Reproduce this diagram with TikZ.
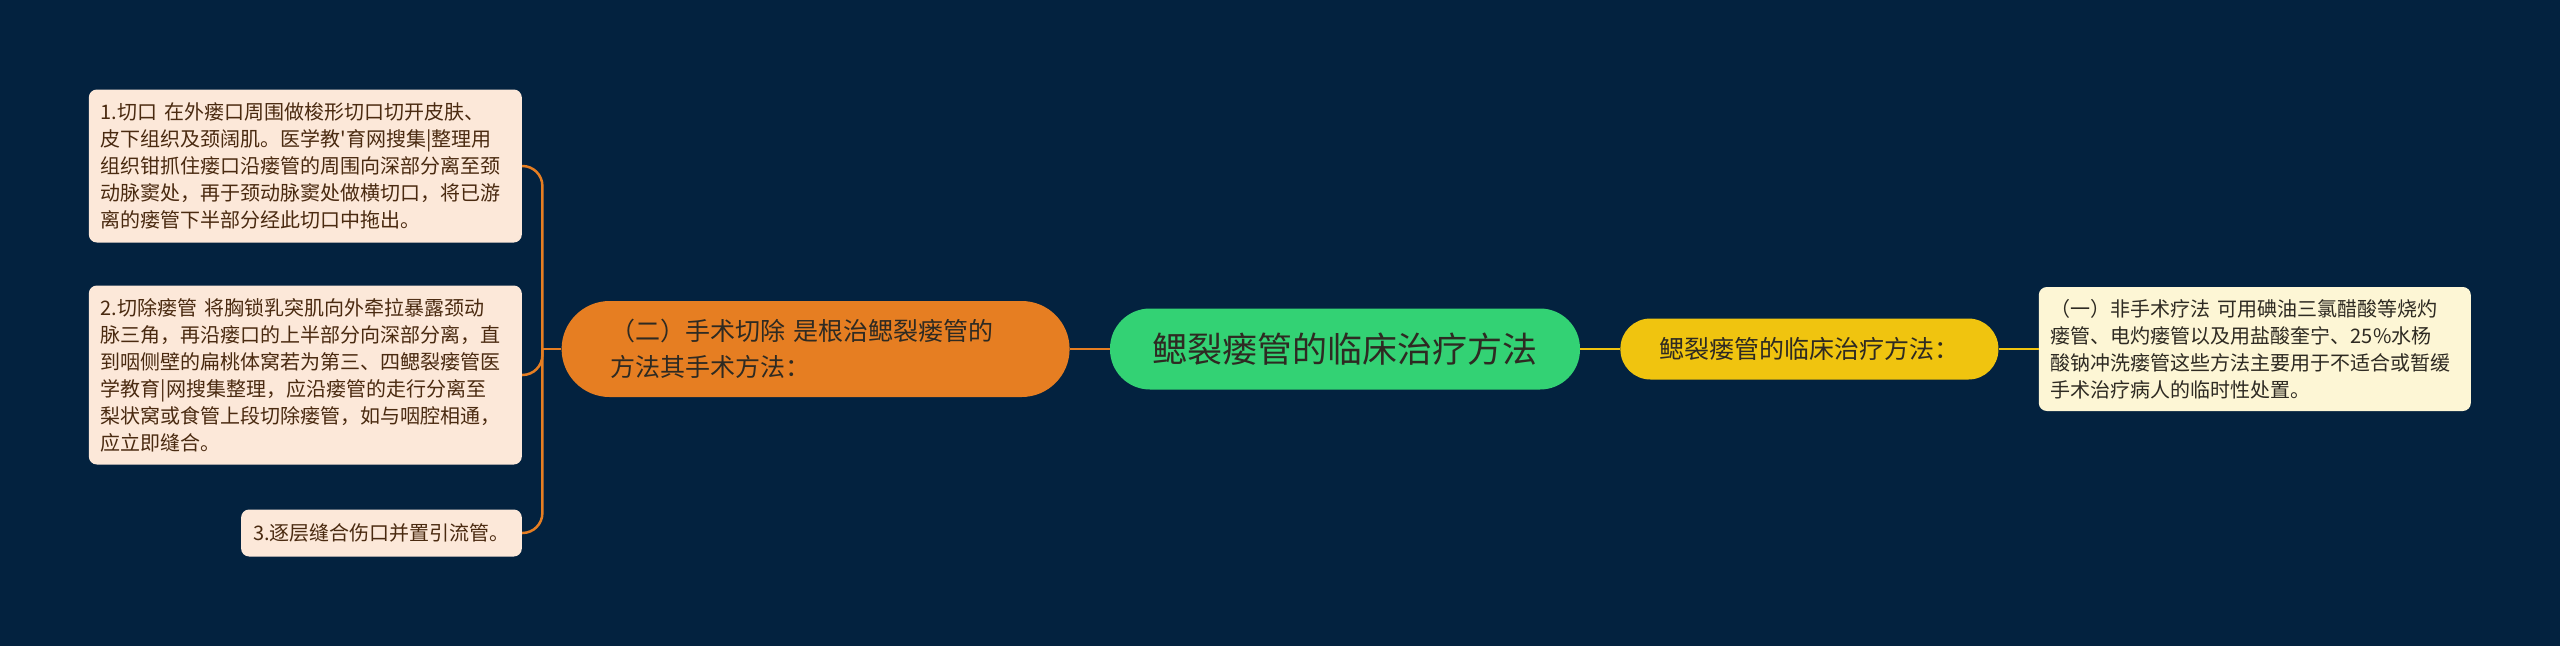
\documentclass[tikz,border=0pt]{standalone}
\usepackage{fontspec}
\newfontfamily\cjk{Noto Sans CJK SC}
\usetikzlibrary{positioning}
\definecolor{bg}{HTML}{03223F}
\definecolor{cgreen}{HTML}{33D274}
\definecolor{corange}{HTML}{E67E22}
\definecolor{cyellow}{HTML}{F0C40F}
\definecolor{cpeach}{HTML}{FCE8D9}
\definecolor{ccream}{HTML}{FDF6D5}
\definecolor{tdark}{HTML}{2E2A22}
\definecolor{tbrown}{HTML}{4A2A10}
\begin{document}
\begin{tikzpicture}[x=1pt, y=-1pt,
    main/.style = {fill=cgreen, text=tdark, rounded corners=40pt, minimum width=470pt, minimum height=81pt, font=\cjk\fontsize{35}{42}\selectfont},
    branch/.style = {fill=corange, text=tdark, rounded corners=48pt, minimum height=96pt, text width=410pt, inner xsep=49pt, align=left, font=\cjk\fontsize{25}{36}\selectfont},
    branchr/.style = {fill=cyellow, text=tdark, rounded corners=30pt, minimum width=378pt, minimum height=61pt, font=\cjk\fontsize{25}{30}\selectfont},
    leaf/.style = {fill=cpeach, text=tbrown, rounded corners=8pt, inner xsep=12pt, inner ysep=8pt, align=left, font=\cjk\fontsize{20}{27}\selectfont},
    leafr/.style = {leaf, fill=ccream, text=tdark},
    link/.style = {draw=corange, line width=2.5pt},
    linkr/.style = {draw=cyellow, line width=2.5pt}]
    \useasboundingbox[fill=bg] (0,0) rectangle (2560,646);

    \node[main] (root) at (1345,349) {鳃裂瘘管的临床治疗方法};
    \node[branch] (op) [left=40pt of root] {（二）手术切除 是根治鳃裂瘘管的\\方法其手术方法：};
    \node[branchr] (non) [right=40pt of root] {鳃裂瘘管的临床治疗方法：};
    \node[leafr, text width=408pt, minimum height=124pt] (n1) [right=40pt of non] {（一）非手术疗法 可用碘油三氯醋酸等烧灼\\瘘管、电灼瘘管以及用盐酸奎宁、25\%水杨\\酸钠冲洗瘘管这些方法主要用于不适合或暂缓\\手术治疗病人的临时性处置。};

    \node[leaf, text width=409pt, minimum height=153pt, anchor=east] (o1) at (522,166) {1.切口 在外瘘口周围做梭形切口切开皮肤、\\皮下组织及颈阔肌。医学教'育网搜集|整理用\\组织钳抓住瘘口沿瘘管的周围向深部分离至颈\\动脉窦处，再于颈动脉窦处做横切口，将已游\\离的瘘管下半部分经此切口中拖出。};
    \node[leaf, text width=409pt, minimum height=179pt, anchor=east] (o2) at (522,375) {2.切除瘘管 将胸锁乳突肌向外牵拉暴露颈动\\脉三角，再沿瘘口的上半部分向深部分离，直\\到咽侧壁的扁桃体窝若为第三、四鳃裂瘘管医\\学教育|网搜集整理，应沿瘘管的走行分离至\\梨状窝或食管上段切除瘘管，如与咽腔相通，\\应立即缝合。};
    \node[leaf, minimum height=47pt, anchor=east] (o3) at (522,533) {3.逐层缝合伤口并置引流管。};

    \draw[link] (root) -- (op);
    \draw[linkr] (root) -- (non);
    \draw[linkr] (non) -- (n1);

    \coordinate (j) at ([xshift=-19pt]op.west);
    \draw[link] (op.west) -- (j);
    \draw[link, rounded corners=20pt] (j) |- (o1.east);
    \draw[link, rounded corners=20pt] (j) |- (o2.east);
    \draw[link, rounded corners=20pt] (j) |- (o3.east);
\end{tikzpicture}
\end{document}
